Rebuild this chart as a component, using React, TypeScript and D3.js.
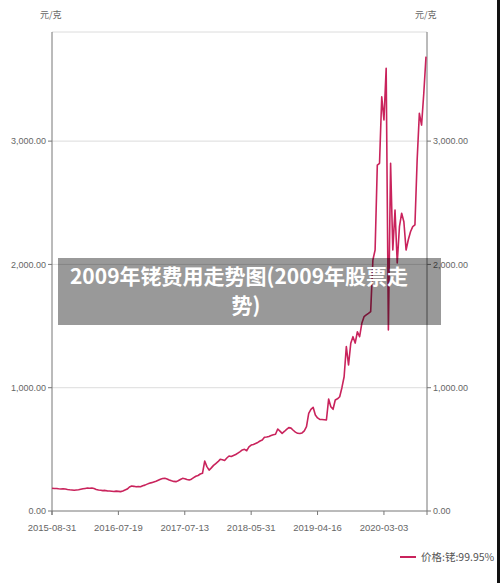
import React from "react";
import * as d3 from "d3";

const tickLabels = ["2015-08-31", "2016-07-19", "2017-07-13", "2018-05-31", "2019-04-16", "2020-03-03"];
const tickStep = 30;
const yTicks = [0, 1000, 2000, 3000];
const yMax = 3885;
const seriesName = "价格:铑:99.95%";
const unitLabel = "元/克";
const titleLines = ["2009年铑费用走势图(2009年股票走", "势)"];

const values = [
  184, 182, 183, 180, 178, 181, 179, 175, 172, 170,
  168, 170, 172, 176, 180, 183, 186, 185, 186, 182,
  175, 170, 168, 165, 167, 163, 162, 160, 158, 161,
  159, 157, 162, 170, 178, 195, 203, 200, 196, 199,
  197, 205, 210, 218, 225, 230, 236, 242, 250, 258,
  263, 265, 260, 252, 245, 240, 238, 245, 255, 265,
  262, 255, 251, 258, 270, 282, 288, 300, 306, 405,
  360, 332, 350, 370, 385, 400, 419, 415, 410, 430,
  446, 442, 450, 458, 470, 482, 495, 500, 489, 520,
  535, 540, 548, 556, 568, 576, 598, 600, 605, 612,
  618, 622, 665, 648, 630, 645, 662, 676, 672, 655,
  640, 630, 628, 633, 650, 684, 792, 825, 841, 778,
  755, 743, 742, 740, 738, 908, 845, 825, 900, 910,
  927, 1000, 1089, 1333, 1184, 1360, 1414, 1362, 1454, 1414,
  1522, 1576, 1590, 1603, 1617, 2036, 2117, 2806, 2820, 3360,
  3171, 3590, 1468, 2820, 2117, 2441, 2011, 2306, 2415, 2346,
  2117, 2200, 2265, 2306, 2320, 2847, 3225, 3130, 3388, 3685,
];

const W = 500;
const H = 583;
const left = 52;
const right = 427;
const top = 32;
const bottom = 511;
const lineColor = "#c9235c";
const axisColor = "#777";
const gridColor = "#dcdcdc";
const labelColor = "#666";
const font = "'Liberation Sans', Arial, sans-serif";

export default function App() {
  const x = d3.scaleLinear().domain([0, values.length - 1]).range([left, right - 1]);
  const y = d3.scaleLinear().domain([0, yMax]).range([bottom, top]);
  const line = d3
    .line<number>()
    .x((_, i) => x(i))
    .y((d) => y(d))
    .curve(d3.curveLinear);
  const fmt = d3.format(",.2f");

  return (
    <svg
      width={W}
      height={H}
      style={{ position: "absolute", left: 0, top: 0, background: "#fff" }}
      fontFamily={font}
    >
      <rect x={0} y={0} width={W} height={H} fill="#fff" />
      {yTicks.filter((t) => t > 0).map((t) => (
        <line key={"g" + t} x1={left} x2={right} y1={y(t)} y2={y(t)} stroke={gridColor} strokeWidth={1} />
      ))}
      <line x1={left} x2={right} y1={top} y2={top} stroke={gridColor} strokeWidth={1} />
      <line x1={left} x2={left} y1={top} y2={bottom + 4} stroke={axisColor} strokeWidth={1} />
      <line x1={right} x2={right} y1={top} y2={bottom + 4} stroke={axisColor} strokeWidth={1} />
      <line x1={left} x2={right} y1={bottom} y2={bottom} stroke={axisColor} strokeWidth={1} />
      {yTicks.map((t) => (
        <g key={"yt" + t}>
          <line x1={left - 4} x2={left} y1={y(t)} y2={y(t)} stroke={axisColor} />
          <text x={left - 6} y={y(t)} dy="0.35em" textAnchor="end" fontSize={9} fill={labelColor}>
            {fmt(t)}
          </text>
          <line x1={right} x2={right + 4} y1={y(t)} y2={y(t)} stroke={axisColor} />
          <text x={right + 6} y={y(t)} dy="0.35em" textAnchor="start" fontSize={9} fill={labelColor}>
            {fmt(t)}
          </text>
        </g>
      ))}
      {tickLabels.map((lab, k) => (
        <g key={lab}>
          <line x1={x(k * tickStep)} x2={x(k * tickStep)} y1={bottom} y2={bottom + 4} stroke={axisColor} />
          <text x={x(k * tickStep)} y={531} textAnchor="middle" fontSize={9.5} fill={labelColor}>
            {lab}
          </text>
        </g>
      ))}
      <text x={40} y={18} fontSize={9} fill={labelColor} fontFamily="'Noto Sans CJK SC', sans-serif">
        {unitLabel}
      </text>
      <text x={415} y={18} fontSize={9} fill={labelColor} fontFamily="'Noto Sans CJK SC', sans-serif">
        {unitLabel}
      </text>
      <path d={line(values) || ""} fill="none" stroke={lineColor} strokeWidth={1.6} strokeLinejoin="round" />
      <line x1={400} x2={416} y1={557} y2={557} stroke={lineColor} strokeWidth={2} />
      <text x={421} y={561} fontSize={10.5} fill="#555" fontFamily="'Noto Sans CJK SC', sans-serif">
        {seriesName}
      </text>
      <rect x={58} y={258} width={383} height={67} fill="#000" fillOpacity={0.4} />
      <text x={239} y={284} textAnchor="middle" fontSize={21} fontWeight="bold" fill="#fff" fontFamily="'Noto Sans CJK SC', sans-serif">
        {titleLines[0]}
      </text>
      <text x={246} y={313} textAnchor="middle" fontSize={21} fontWeight="bold" fill="#fff" fontFamily="'Noto Sans CJK SC', sans-serif">
        {titleLines[1]}
      </text>
      <rect x={497} y={0} width={3} height={H} fill="#111" />
    </svg>
  );
}
